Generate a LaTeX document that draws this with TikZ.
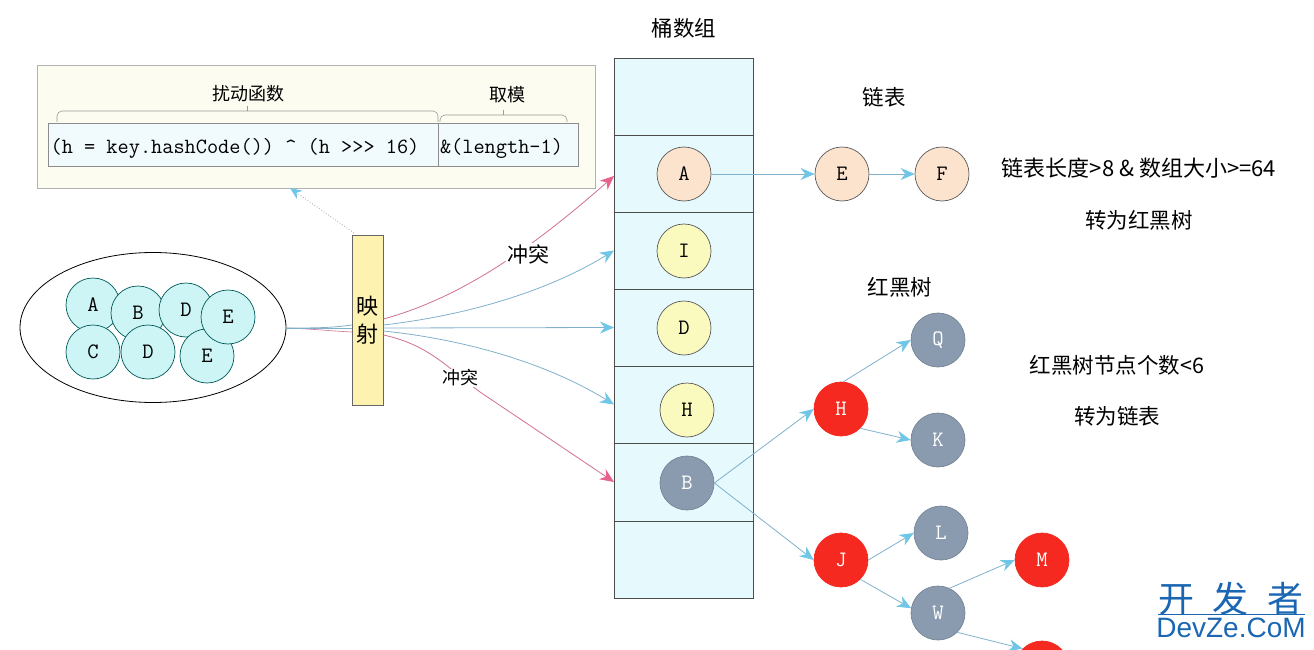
\documentclass[tikz,border=0pt]{standalone}
\usepackage{fontspec}
\setmainfont{Liberation Serif}
\setmonofont{Latin Modern Mono}
\newfontfamily\cjk{Noto Sans CJK SC}
\usetikzlibrary{arrows.meta}
\definecolor{tipblue}{HTML}{6FC6E6}
\definecolor{linkblue}{HTML}{7FB0CC}
\definecolor{tippink}{HTML}{E8628E}
\definecolor{linkpink}{HTML}{D0708F}
\definecolor{bucketfill}{HTML}{E6F9FC}
\definecolor{cellfill}{HTML}{F1FAFC}
\definecolor{panelfill}{HTML}{FDFCF1}
\definecolor{mapfill}{HTML}{FDF2B0}
\definecolor{cyanfill}{HTML}{CDF5F6}
\definecolor{peach}{HTML}{FCE3CE}
\definecolor{paleyellow}{HTML}{FAFABF}
\definecolor{slate}{HTML}{8A9BB0}
\definecolor{hotred}{HTML}{F5291F}
\definecolor{wmblue}{HTML}{1B66B3}
\tikzset{
  x=1pt,y=-1pt,
  bucket/.style={draw=black!70,line width=.9pt,fill=bucketfill,minimum width=139pt,minimum height=77pt,inner sep=0pt,outer sep=0pt},
  ball/.style={circle,draw=black!65,line width=.7pt,minimum size=54pt,inner sep=0pt,font=\ttfamily\fontsize{22}{22}\selectfont},
  cyanball/.style={ball,fill=cyanfill,draw=teal!70!black},
  peachball/.style={ball,fill=peach},
  yellowball/.style={ball,fill=paleyellow},
  greyball/.style={ball,fill=slate,draw=slate!85!black,text=white,font=\ttfamily\bfseries\fontsize{22}{22}\selectfont},
  redball/.style={ball,fill=hotred,draw=hotred,text=white,font=\ttfamily\bfseries\fontsize{22}{22}\selectfont},
  blink/.style={draw=linkblue,line width=.8pt,-{Stealth[length=14pt,width=12pt,color=tipblue]}},
  plink/.style={draw=linkpink,line width=.8pt,-{Stealth[length=14pt,width=12pt,color=tippink]}},
  lbl/.style={font=\cjk\fontsize{21.5}{22}\selectfont,inner sep=1pt},
  cell/.style={draw=black!45,line width=.7pt,fill=cellfill,minimum height=43pt,inner sep=0pt,outer sep=0pt},
  formula/.style={font=\ttfamily\fontsize{21.7}{22}\selectfont,inner sep=0pt},
  bracepath/.style={draw=black!40,line width=.6pt,rounded corners=5pt},
}
\begin{document}
\begin{tikzpicture}
\useasboundingbox (0,0) rectangle (1314,650);
\clip (0,0) rectangle (1314,650);
% formula panel
\node[draw=black!30,fill=panelfill,line width=.8pt,minimum width=558pt,minimum height=123pt,inner sep=0pt] (panel) at (316,126.5) {};
\node[cell,minimum width=390pt] (hash) at (243,144.5) {};
\node[formula] (hashtext) at (235,148) {(h = key.hashCode()) \^{} (h >>> 16)};
\node[cell,minimum width=140pt] (mod) at (508,144.5) {};
\node[formula] (modtext) at (501.5,148) {\&(length-1)};
\coordinate (br1a) at (57,122); \coordinate (br1b) at (438,122);
\coordinate (br2a) at (440,122); \coordinate (br2b) at (567,122);
\draw[bracepath] (br1a) -- (57,111) -- (438,111) -- (br1b);
\draw[bracepath,rounded corners=0pt] (247,111) -- (247,106);
\draw[bracepath] (br2a) -- (440,115) -- (567,115) -- (br2b);
\draw[bracepath,rounded corners=0pt] (503,115) -- (503,110);
\node[lbl,font=\cjk\fontsize{18}{18}\selectfont] (t1) at (248,94) {扰动函数};
\node[lbl,font=\cjk\fontsize{18}{18}\selectfont] (t2) at (507,95) {取模};
% key set
\draw[black,line width=.8pt,fill=white] (153,327.5) ellipse [x radius=133,y radius=75];
\coordinate (setout) at (286,328);
\node[cyanball] (k1) at (93,305) {A};
\node[cyanball] (k2) at (138,313) {B};
\node[cyanball] (k3) at (186,310) {D};
\node[cyanball] (k4) at (207,356) {E};
\node[cyanball] (k5) at (228,317) {E};
\node[cyanball] (k6) at (93,352) {C};
\node[cyanball] (k7) at (148,352) {D};
% mapping
\node[draw=black!60,fill=mapfill,line width=.9pt,minimum width=31pt,minimum height=170pt,inner sep=0pt,outer sep=0pt,align=center,font=\cjk\fontsize{22}{28}\selectfont] (map) at (367.5,320.5) {映\\射};
\draw[linkpink,line width=.6pt] (setout) .. controls (315,329) and (330,331) .. (352,332);
\draw[linkblue,line width=.8pt] (setout) .. controls (315,328) and (330,328) .. (352,325);
\draw[linkblue,line width=.8pt] (setout) -- (352,328);
% buckets
\node[bucket] (b0) at (683.5,96.5) {};
\node[bucket] (b1) at (683.5,173.5) {};
\node[bucket] (b2) at (683.5,250.5) {};
\node[bucket] (b3) at (683.5,327.5) {};
\node[bucket] (b4) at (683.5,404.5) {};
\node[bucket,minimum height=78pt] (b5) at (683.5,482) {};
\node[bucket] (b6) at (683.5,559.5) {};
\node[lbl] (title) at (684,28) {桶数组};
% dotted link
\coordinate (panelin) at (290,188);
\draw[draw=black!35,line width=.8pt,dotted,-{Stealth[length=12pt,width=10pt,color=tipblue]}] (354,233) -- (panelin);
% mapping links
\draw[plink] (383.5,319) .. controls (460,298) and (530,250) .. (b1.west |- 0,176);
\draw[blink] (383.5,325) .. controls (470,315) and (550,290) .. (b2.west);
\draw[blink] (383.5,328) -- (b3.west);
\draw[blink] (383.5,331) .. controls (470,340) and (550,365) .. (b4.west);
\draw[plink] (383.5,335) .. controls (430,345) and (450,370) .. (480,392) -- (b5.west);
\node[lbl,fill=white,font=\cjk\fontsize{21}{21}\selectfont] (c1) at (528,254) {冲突};
\node[lbl,fill=white,font=\cjk\fontsize{18}{18}\selectfont] (c2) at (460,378) {冲突};
% bucket nodes
\node[peachball] (A) at (684,174) {A};
\node[yellowball] (I) at (684,251) {I};
\node[yellowball] (D) at (684,328) {D};
\node[yellowball] (H) at (687,410) {H};
\node[greyball] (B) at (687,483) {B};
% list
\node[peachball] (E) at (842,174) {E};
\node[peachball] (F) at (942,174) {F};
\draw[blink] (A.east) -- (E.west);
\draw[blink] (E.east) -- (F.west);
% tree
\node[redball] (RH) at (841,409) {H};
\node[greyball] (Q) at (938,340) {Q};
\node[greyball] (K) at (938,440) {K};
\node[redball] (J) at (841,560) {J};
\node[greyball] (L) at (941,533) {L};
\node[greyball] (W) at (938,613) {W};
\node[redball] (M) at (1042,560) {M};
\node[redball] (N) at (1042,668) {};
\draw[blink] (B.east) -- (RH.west);
\draw[blink] (B.east) -- (J.west);
\draw[blink] (RH.85) -- (Q.west);
\draw[blink] (RH.-45) -- (K.west);
\draw[blink] (J.east) -- (L.west);
\draw[blink] (J.-45) -- (W.170);
\draw[blink] (W.65) -- (M.west);
\draw[blink] (W.-45) -- (N.135);
% captions
\node[lbl] (s1) at (884,97) {链表};
\node[lbl] (s2) at (900,287) {红黑树};
\node[lbl,font=\cjk\fontsize{22}{22}\selectfont] (s3) at (1139,168) {链表长度>8 \& 数组大小>=64};
\node[lbl] (s4) at (1139,220) {转为红黑树};
\node[lbl] (s5) at (1117,365) {红黑树节点个数<6};
\node[lbl] (s6) at (1117,416) {转为链表};
% watermark
\node[font=\cjk\fontsize{36}{36}\selectfont,text=wmblue,inner sep=0pt] (w1) at (1231,599) {开\hspace{19pt}发\hspace{19pt}者};
\draw[wmblue,line width=.6pt] (1158,614) -- (1305,614);
\node[font=\fontspec{Liberation Sans}\fontsize{28}{28}\selectfont,text=wmblue,inner sep=0pt] (w2) at (1231,628) {DevZe.CoM};
\end{tikzpicture}
\end{document}
